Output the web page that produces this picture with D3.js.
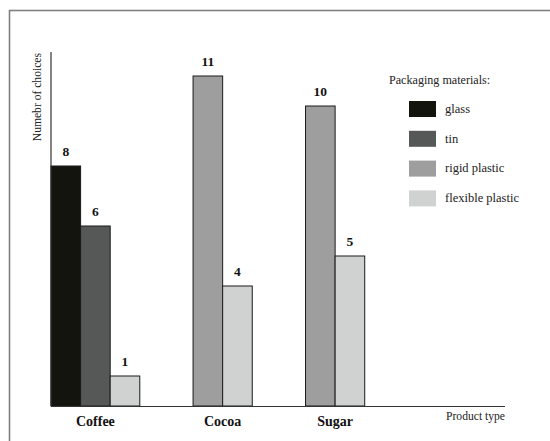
<!DOCTYPE html>
<html><head><meta charset="utf-8">
<script src="https://cdn.jsdelivr.net/npm/d3@7"></script>
<style>body{margin:0;background:#fff}svg{display:block}</style>
</head><body>
<svg id="c" width="550" height="441" font-family="'Liberation Serif', 'Times New Roman', Times, 'DejaVu Serif', serif"></svg>
<script>
const categories = ["Coffee", "Cocoa", "Sugar"];
const materials = ["glass", "tin", "rigid plastic", "flexible plastic"];
const glass = [8, 0, 0];
const tin = [6, 0, 0];
const rigidPlastic = [0, 11, 10];
const flexiblePlastic = [1, 4, 5];
const colors = ["#14140e", "#565857", "#9d9e9d", "#d0d2d1"];
const yLabel = "Numebr of choices";
const xLabel = "Product type";
const legendTitle = "Packaging materials:";

(function () {
const series = [glass, tin, rigidPlastic, flexiblePlastic];
const svg = d3.select("#c");

// frame
svg.append("rect").attr("x", 9.5).attr("y", 10.5).attr("width", 600).attr("height", 500)
  .attr("fill", "none").attr("stroke", "#808080").attr("stroke-width", 1.6);

const plotLeft = 51, plotRight = 505, base = 406, plotTop = 52;
const y = d3.scaleLinear().domain([0, 11.8]).range([base, plotTop]);

// slot layout: groups contain only non-zero bars, separated by a constant gap
const gap = 1.8;
const groups = [];
let pos = 0;
categories.forEach((c, i) => {
  const items = [];
  series.forEach((s, k) => { if (s[i] > 0) items.push({cat: c, mat: materials[k], k, v: s[i]}); });
  items.forEach((d, j) => d.slot = pos + j);
  groups.push({cat: c, start: pos, n: items.length, items});
  pos += items.length + gap;
});
const x = d3.scaleLinear().domain([0, 15.34]).range([plotLeft, plotRight]);
const bw = x(1) - x(0);

const bars = groups.flatMap(g => g.items);
svg.append("g").selectAll("rect").data(bars).join("rect")
  .attr("x", d => x(d.slot)).attr("y", d => y(d.v))
  .attr("width", bw).attr("height", d => base - y(d.v))
  .attr("fill", d => colors[d.k]).attr("stroke", "#1a1a1a").attr("stroke-width", 1);

svg.append("g").selectAll("text").data(bars).join("text")
  .attr("x", d => x(d.slot) + bw / 2).attr("y", d => y(d.v) - 10)
  .attr("text-anchor", "middle").attr("font-size", 13.5).attr("font-weight", "bold").attr("fill", "#111")
  .text(d => d.v);

// axes
svg.append("line").attr("x1", plotLeft).attr("x2", plotLeft).attr("y1", plotTop).attr("y2", base)
  .attr("stroke", "#333").attr("stroke-width", 1.2);
svg.append("line").attr("x1", plotLeft).attr("x2", plotRight).attr("y1", base + 0.5).attr("y2", base + 0.5)
  .attr("stroke", "#333").attr("stroke-width", 1.2);

svg.append("g").selectAll("text").data(groups).join("text")
  .attr("x", g => x(g.start + g.n / 2)).attr("y", 426)
  .attr("text-anchor", "middle").attr("font-size", 14).attr("font-weight", "bold").attr("fill", "#111")
  .text(g => g.cat);

svg.append("text").attr("transform", `translate(41,${plotTop + 1}) rotate(-90)`)
  .attr("text-anchor", "end").attr("font-size", 11.6).attr("fill", "#222").text(yLabel);
svg.append("text").attr("x", plotRight).attr("y", 420).attr("text-anchor", "end")
  .attr("font-size", 11.6).attr("fill", "#222").text(xLabel);

// legend
svg.append("text").attr("x", 389).attr("y", 84).attr("font-size", 12.1).attr("fill", "#222").text(legendTitle);
const lg = svg.append("g").selectAll("g").data(materials).join("g")
  .attr("transform", (d, i) => `translate(409,${101 + i * 29.8})`);
lg.append("rect").attr("width", 27).attr("height", 16).attr("fill", (d, i) => colors[i]);
lg.append("text").attr("x", 36).attr("y", 11.8).attr("font-size", 12.5).attr("fill", "#222").text(d => d);
})();
</script>
</body></html>
